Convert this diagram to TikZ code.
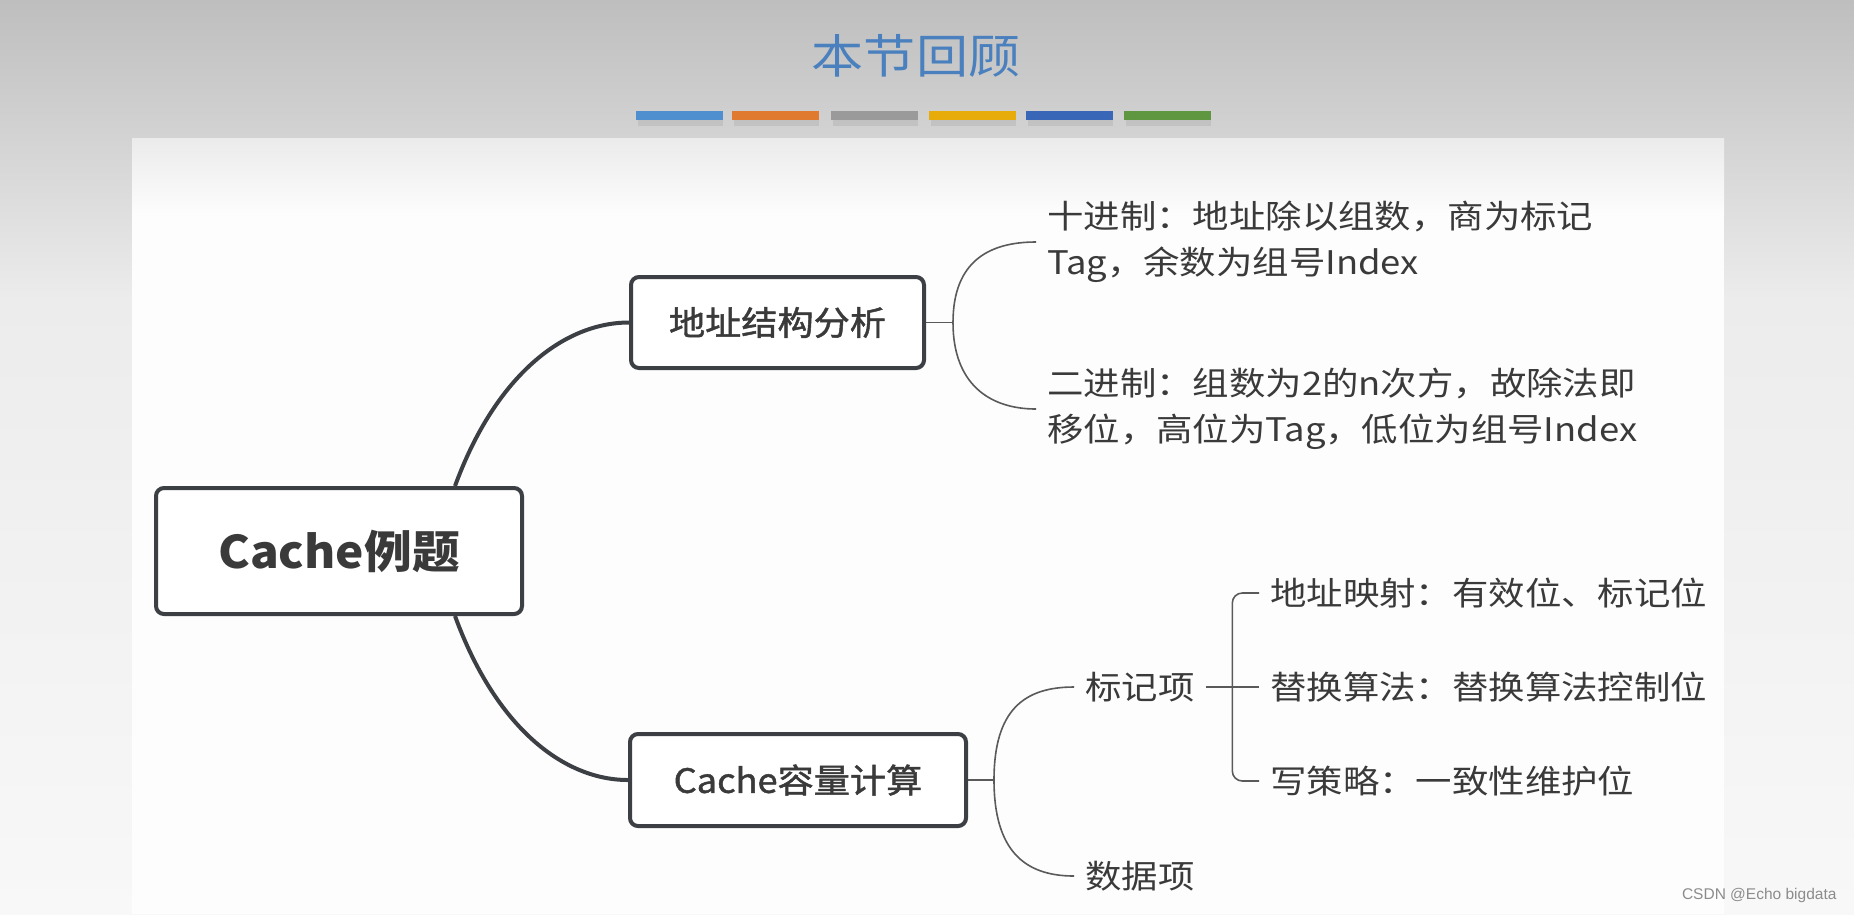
\documentclass[tikz,border=0pt]{standalone}
\usepackage{fontspec}
\newfontfamily\cjk[FakeStretch=1.12]{Noto Sans CJK SC}
\newfontfamily\cjkbox[FakeStretch=1.08,FakeBold=1.4]{Noto Sans CJK SC}
\newfontfamily\cjkmain[FakeStretch=1.06]{Noto Sans CJK SC}
\newfontfamily\wmfont{Liberation Sans}
\usetikzlibrary{calc}
\definecolor{boxline}{HTML}{3C3F44}
\definecolor{txt}{HTML}{3A3A3A}
\definecolor{linkgray}{HTML}{5A5A5A}
\definecolor{titleblue}{HTML}{4A80BE}
\definecolor{bgtop}{HTML}{BEBEBE}
\definecolor{bgmid}{HTML}{ECECEC}
\definecolor{bgbot}{HTML}{F8F8F8}
\definecolor{paneltop}{HTML}{EBEBEB}
\definecolor{panel}{HTML}{FDFDFD}
\definecolor{barA}{HTML}{4F8FCF}
\definecolor{barB}{HTML}{E07A2E}
\definecolor{barC}{HTML}{9A9A9A}
\definecolor{barD}{HTML}{E8AC0A}
\definecolor{barE}{HTML}{3A66B8}
\definecolor{barF}{HTML}{5F9640}
\tikzset{
  mbox/.style={draw=boxline, line width=4pt, rounded corners=8pt, fill=white,
    text=txt, inner sep=0pt, align=center},
  leaf/.style={text=txt, font=\cjk\fontsize{32.5}{46}\selectfont,
    inner xsep=11pt, inner ysep=0pt, align=left, anchor=west},
  thicklink/.style={draw=boxline, line width=4pt},
  thinlink/.style={draw=linkgray, line width=1.6pt},
}
\begin{document}
\begin{tikzpicture}[x=1pt,y=-1pt]
\useasboundingbox (0,0) rectangle (1854,914);
% background
\fill[top color=bgtop, bottom color=bgmid] (0,0) rectangle (1854,300);
\fill[top color=bgmid, bottom color=bgbot] (0,300) rectangle (1854,914);
\fill[top color=paneltop, bottom color=panel] (132,138) rectangle (1724,215);
\fill[panel] (132,215) rectangle (1724,914);
% title and colour bars
\node[text=titleblue, font=\cjk\fontsize{46.5}{56}\selectfont] (title) at (916,56) {本节回顾};
\foreach \x/\c in {636/barA,732/barB,831/barC,929/barD,1026/barE,1124/barF}{
  \fill[black,opacity=0.07] (\x+2,120) rectangle ++(85,6);
  \fill[\c] (\x,111) rectangle ++(87,9);
}
% boxes
\node[mbox, minimum width=366pt, minimum height=126pt,
  font=\cjkmain\bfseries\fontsize{45}{52}\selectfont] (main) at (339,551) {Cache例题};
\node[mbox, minimum width=293pt, minimum height=91pt,
  font=\cjkbox\fontsize{33.5}{40}\selectfont] (addr) at (777.5,322.5) {地址结构分析};
\node[mbox, minimum width=336pt, minimum height=92pt,
  font=\cjkbox\fontsize{33.5}{40}\selectfont] (cap) at (798,780) {Cache容量计算};
% leaves
\node[leaf] (dec) at (1036,242) {十进制：地址除以组数，商为标记\\Tag，余数为组号Index};
\node[leaf] (bin) at (1036,409) {二进制：组数为2的n次方，故除法即\\移位，高位为Tag，低位为组号Index};
\node[leaf] (tag) at (1074,687) {标记项};
\node[leaf] (data) at (1074,876) {数据项};
\node[leaf] (r1) at (1259,593) {地址映射：有效位、标记位};
\node[leaf] (r2) at (1259,687) {替换算法：替换算法控制位};
\node[leaf] (r3) at (1259,781) {写策略：一致性维护位};
% connectors
\draw[thicklink] ([xshift=116pt]main.north) .. controls +(41,-112) and +(-64,0) .. (addr.west);
\draw[thicklink] ([xshift=116pt]main.south) .. controls +(41,112) and +(-64,0) .. (cap.west);
\draw[thinlink] (addr.east) -- ++(27,0) coordinate (j1);
\draw[thinlink] (j1) .. controls +(0,-62) and +(-46,0) .. (dec.west);
\draw[thinlink] (j1) .. controls +(0,62) and +(-46,0) .. (bin.west);
\draw[thinlink] (cap.east) -- ++(26,0) coordinate (j2);
\draw[thinlink] (j2) .. controls +(0,-70) and +(-50,0) .. (tag.west);
\draw[thinlink] (j2) .. controls +(0,70) and +(-50,0) .. (data.west);
\draw[thinlink] (tag.east) -- (r2.west);
\draw[thinlink, rounded corners=10pt] (r1.west) -| ($(tag.east)!0.5!(r2.west)$) |- (r3.west);
% watermark
\node[text=black!45, font=\wmfont\fontsize{15.5}{18}\selectfont, anchor=east] (wm) at (1840,895) {CSDN @Echo bigdata};
\end{tikzpicture}
\end{document}
